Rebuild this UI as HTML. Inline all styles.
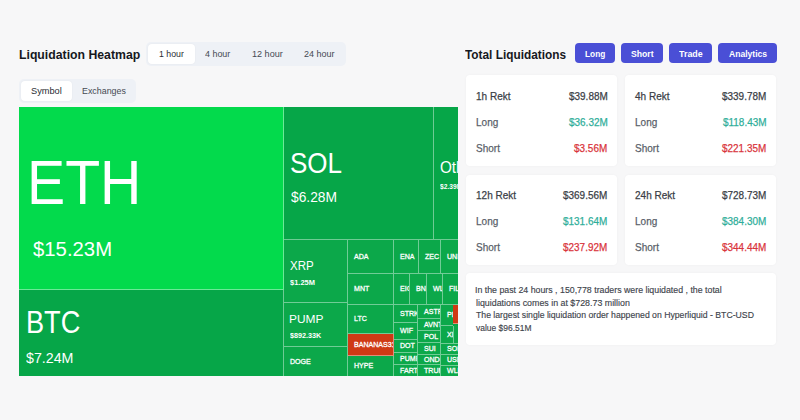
<!DOCTYPE html>
<html><head><meta charset="utf-8">
<style>
*{margin:0;padding:0;box-sizing:border-box}
html,body{width:800px;height:420px;overflow:hidden;background:#f7f7f8;font-family:"Liberation Sans",sans-serif;}
.a{position:absolute}
.t{position:absolute;white-space:nowrap;line-height:1}
.b{position:absolute;overflow:hidden;color:#fff;display:flex;align-items:center;white-space:nowrap;line-height:1}
</style></head><body>
<div class="t" style="left:19.20px;top:48px;font-size:13px;color:#16181d;font-weight:bold;transform:scaleX(0.9426);transform-origin:0 50%;">Liquidation Heatmap</div>
<div class="a" style="left:145.80px;top:41.80px;width:200.20px;height:24.40px;background:#eef1f6;border-radius:5px;"></div>
<div class="a" style="left:147.90px;top:43.90px;width:46.70px;height:20.10px;background:#ffffff;border-radius:4px;box-shadow:0 0 2px rgba(0,0,0,.05);"></div>
<div class="t" style="left:159.04px;top:49px;font-size:9.5px;color:#2a2d33;transform:scaleX(0.9225);transform-origin:0 50%;">1 hour</div>
<div class="t" style="left:205.32px;top:49px;font-size:9.5px;color:#454a53;transform:scaleX(0.9382);transform-origin:0 50%;">4 hour</div>
<div class="t" style="left:251.82px;top:49px;font-size:9.5px;color:#454a53;transform:scaleX(0.9555);transform-origin:0 50%;">12 hour</div>
<div class="t" style="left:303.55px;top:49px;font-size:9.5px;color:#454a53;transform:scaleX(0.9483);transform-origin:0 50%;">24 hour</div>
<div class="a" style="left:19.10px;top:79.00px;width:117.30px;height:23.60px;background:#eef1f6;border-radius:5px;"></div>
<div class="a" style="left:20.90px;top:80.75px;width:50.70px;height:20.15px;background:#ffffff;border-radius:4px;box-shadow:0 0 2px rgba(0,0,0,.05);"></div>
<div class="t" style="left:30.99px;top:86px;font-size:9.5px;color:#2a2d33;transform:scaleX(0.9694);transform-origin:0 50%;">Symbol</div>
<div class="t" style="left:81.89px;top:86px;font-size:9.5px;color:#454a53;transform:scaleX(0.9340);transform-origin:0 50%;">Exchanges</div>
<div class="t" style="left:465.38px;top:48px;font-size:13px;color:#16181d;font-weight:bold;transform:scaleX(0.9106);transform-origin:0 50%;">Total Liquidations</div>
<div class="a" style="left:575.00px;top:43.00px;width:40.00px;height:20.00px;background:#4a4fd6;border-radius:4px;"></div>
<div class="t" style="left:585.46px;top:49px;font-size:9.5px;color:#ffffff;font-weight:bold;transform:scaleX(0.8730);transform-origin:0 50%;">Long</div>
<div class="a" style="left:621.00px;top:43.00px;width:42.00px;height:20.00px;background:#4a4fd6;border-radius:4px;"></div>
<div class="t" style="left:630.78px;top:49px;font-size:9.5px;color:#ffffff;font-weight:bold;transform:scaleX(0.9098);transform-origin:0 50%;">Short</div>
<div class="a" style="left:669.00px;top:43.00px;width:43.00px;height:20.00px;background:#4a4fd6;border-radius:4px;"></div>
<div class="t" style="left:679.41px;top:49px;font-size:9.5px;color:#ffffff;font-weight:bold;transform:scaleX(0.9343);transform-origin:0 50%;">Trade</div>
<div class="a" style="left:718.00px;top:43.00px;width:59.00px;height:20.00px;background:#4a4fd6;border-radius:4px;"></div>
<div class="t" style="left:728.79px;top:49px;font-size:9.5px;color:#ffffff;font-weight:bold;transform:scaleX(0.9026);transform-origin:0 50%;">Analytics</div>
<div class="a" style="left:466.00px;top:75.00px;width:151.00px;height:91.00px;background:#ffffff;border-radius:4px;box-shadow:0 0 3px rgba(0,0,0,.035);"></div>
<div class="a" style="left:625.00px;top:75.00px;width:151.00px;height:91.00px;background:#ffffff;border-radius:4px;box-shadow:0 0 3px rgba(0,0,0,.035);"></div>
<div class="a" style="left:466.00px;top:175.00px;width:151.00px;height:90.00px;background:#ffffff;border-radius:4px;box-shadow:0 0 3px rgba(0,0,0,.035);"></div>
<div class="a" style="left:625.00px;top:175.00px;width:151.00px;height:90.00px;background:#ffffff;border-radius:4px;box-shadow:0 0 3px rgba(0,0,0,.035);"></div>
<div class="a" style="left:466.00px;top:273.00px;width:310.00px;height:72.00px;background:#ffffff;border-radius:4px;box-shadow:0 0 3px rgba(0,0,0,.035);"></div>
<div class="t" style="left:476.15px;top:91px;font-size:11.2px;color:#3a3e46;transform:scaleX(0.8950);transform-origin:0 50%;-webkit-text-stroke:0.25px;">1h Rekt</div>
<div class="t" style="left:568.77px;top:91px;font-size:11.2px;color:#3a3e46;transform:scaleX(0.8900);transform-origin:0 50%;-webkit-text-stroke:0.25px;">$39.88M</div>
<div class="t" style="left:476.10px;top:117px;font-size:11.2px;color:#5a5f69;transform:scaleX(0.8950);transform-origin:0 50%;-webkit-text-stroke:0.25px;">Long</div>
<div class="t" style="left:568.77px;top:117px;font-size:11.2px;color:#2fae9a;transform:scaleX(0.8900);transform-origin:0 50%;-webkit-text-stroke:0.25px;">$36.32M</div>
<div class="t" style="left:476.45px;top:143px;font-size:11.2px;color:#5a5f69;transform:scaleX(0.8950);transform-origin:0 50%;-webkit-text-stroke:0.25px;">Short</div>
<div class="t" style="left:574.30px;top:143px;font-size:11.2px;color:#d9343c;transform:scaleX(0.8900);transform-origin:0 50%;-webkit-text-stroke:0.25px;">$3.56M</div>
<div class="t" style="left:635.40px;top:91px;font-size:11.2px;color:#3a3e46;transform:scaleX(0.8950);transform-origin:0 50%;-webkit-text-stroke:0.25px;">4h Rekt</div>
<div class="t" style="left:722.24px;top:91px;font-size:11.2px;color:#3a3e46;transform:scaleX(0.8900);transform-origin:0 50%;-webkit-text-stroke:0.25px;">$339.78M</div>
<div class="t" style="left:634.80px;top:117px;font-size:11.2px;color:#5a5f69;transform:scaleX(0.8950);transform-origin:0 50%;-webkit-text-stroke:0.25px;">Long</div>
<div class="t" style="left:722.99px;top:117px;font-size:11.2px;color:#2fae9a;transform:scaleX(0.8900);transform-origin:0 50%;-webkit-text-stroke:0.25px;">$118.43M</div>
<div class="t" style="left:635.15px;top:143px;font-size:11.2px;color:#5a5f69;transform:scaleX(0.8950);transform-origin:0 50%;-webkit-text-stroke:0.25px;">Short</div>
<div class="t" style="left:722.24px;top:143px;font-size:11.2px;color:#d9343c;transform:scaleX(0.8900);transform-origin:0 50%;-webkit-text-stroke:0.25px;">$221.35M</div>
<div class="t" style="left:476.15px;top:190px;font-size:11.2px;color:#3a3e46;transform:scaleX(0.8950);transform-origin:0 50%;-webkit-text-stroke:0.25px;">12h Rekt</div>
<div class="t" style="left:563.24px;top:190px;font-size:11.2px;color:#3a3e46;transform:scaleX(0.8900);transform-origin:0 50%;-webkit-text-stroke:0.25px;">$369.56M</div>
<div class="t" style="left:476.10px;top:216px;font-size:11.2px;color:#5a5f69;transform:scaleX(0.8950);transform-origin:0 50%;-webkit-text-stroke:0.25px;">Long</div>
<div class="t" style="left:563.24px;top:216px;font-size:11.2px;color:#2fae9a;transform:scaleX(0.8900);transform-origin:0 50%;-webkit-text-stroke:0.25px;">$131.64M</div>
<div class="t" style="left:476.45px;top:242px;font-size:11.2px;color:#5a5f69;transform:scaleX(0.8950);transform-origin:0 50%;-webkit-text-stroke:0.25px;">Short</div>
<div class="t" style="left:563.24px;top:242px;font-size:11.2px;color:#d9343c;transform:scaleX(0.8900);transform-origin:0 50%;-webkit-text-stroke:0.25px;">$237.92M</div>
<div class="t" style="left:635.10px;top:190px;font-size:11.2px;color:#3a3e46;transform:scaleX(0.8950);transform-origin:0 50%;-webkit-text-stroke:0.25px;">24h Rekt</div>
<div class="t" style="left:722.24px;top:190px;font-size:11.2px;color:#3a3e46;transform:scaleX(0.8900);transform-origin:0 50%;-webkit-text-stroke:0.25px;">$728.73M</div>
<div class="t" style="left:634.80px;top:216px;font-size:11.2px;color:#5a5f69;transform:scaleX(0.8950);transform-origin:0 50%;-webkit-text-stroke:0.25px;">Long</div>
<div class="t" style="left:722.24px;top:216px;font-size:11.2px;color:#2fae9a;transform:scaleX(0.8900);transform-origin:0 50%;-webkit-text-stroke:0.25px;">$384.30M</div>
<div class="t" style="left:635.15px;top:242px;font-size:11.2px;color:#5a5f69;transform:scaleX(0.8950);transform-origin:0 50%;-webkit-text-stroke:0.25px;">Short</div>
<div class="t" style="left:722.24px;top:242px;font-size:11.2px;color:#d9343c;transform:scaleX(0.8900);transform-origin:0 50%;-webkit-text-stroke:0.25px;">$344.44M</div>
<div class="t" style="left:475.41px;top:286px;font-size:9.3px;color:#40444c;transform:scaleX(0.9451);transform-origin:0 50%;-webkit-text-stroke:0.15px;">In the past 24 hours , 150,778 traders were liquidated , the total</div>
<div class="t" style="left:475.63px;top:299px;font-size:9.3px;color:#40444c;transform:scaleX(0.9511);transform-origin:0 50%;-webkit-text-stroke:0.15px;">liquidations comes in at $728.73 million</div>
<div class="t" style="left:476.03px;top:311px;font-size:9.3px;color:#40444c;transform:scaleX(0.9336);transform-origin:0 50%;-webkit-text-stroke:0.15px;">The largest single liquidation order happened on Hyperliquid - BTC-USD</div>
<div class="t" style="left:476.20px;top:324px;font-size:9.3px;color:#40444c;transform:scaleX(0.9093);transform-origin:0 50%;-webkit-text-stroke:0.15px;">value $96.51M</div>
<div class="a" style="left:19px;top:107px;width:439px;height:269px;background:#06a648;overflow:hidden">
<div class="b" style="left:0px;top:0px;width:265px;height:183px;background:#03da4c;border-right:1px solid rgba(255,255,255,.42);border-bottom:1px solid rgba(255,255,255,.42);"></div>
<div class="b" style="left:0px;top:183px;width:265px;height:86px;background:#06a648;border-right:1px solid rgba(255,255,255,.42);"></div>
<div class="b" style="left:265px;top:0px;width:150px;height:133px;background:#06a648;border-right:1px solid rgba(255,255,255,.42);border-bottom:1px solid rgba(255,255,255,.42);"></div>
<div class="b" style="left:415px;top:0px;width:24px;height:133px;background:#06a648;border-bottom:1px solid rgba(255,255,255,.42);"></div>
<div class="b" style="left:265px;top:133px;width:64px;height:63px;background:#0ca84a;border-right:1px solid rgba(255,255,255,.42);border-bottom:1px solid rgba(255,255,255,.42);"></div>
<div class="b" style="left:265px;top:196px;width:64px;height:44px;background:#0ca84a;border-right:1px solid rgba(255,255,255,.42);border-bottom:1px solid rgba(255,255,255,.42);"></div>
<div class="b" style="left:265px;top:240px;width:64px;height:29px;background:#0ca84a;border-right:1px solid rgba(255,255,255,.42);"><span style="font-size:7.6px;-webkit-text-stroke:0.3px;margin-left:5.50px;transform:scaleX(.93);transform-origin:0 50%">DOGE</span></div>
<div class="b" style="left:329px;top:133px;width:46px;height:34px;background:#0ca84a;border-right:1px solid rgba(255,255,255,.42);border-bottom:1px solid rgba(255,255,255,.42);"><span style="font-size:7.6px;-webkit-text-stroke:0.3px;margin-left:5.80px;transform:scaleX(.93);transform-origin:0 50%">ADA</span></div>
<div class="b" style="left:329px;top:167px;width:46px;height:31px;background:#0ca84a;border-right:1px solid rgba(255,255,255,.42);border-bottom:1px solid rgba(255,255,255,.42);"><span style="font-size:7.6px;-webkit-text-stroke:0.3px;margin-left:5.80px;transform:scaleX(.93);transform-origin:0 50%">MNT</span></div>
<div class="b" style="left:329px;top:198px;width:46px;height:29px;background:#0ca84a;border-right:1px solid rgba(255,255,255,.42);border-bottom:1px solid rgba(255,255,255,.42);"><span style="font-size:7.6px;-webkit-text-stroke:0.3px;margin-left:5.80px;transform:scaleX(.93);transform-origin:0 50%">LTC</span></div>
<div class="b" style="left:329px;top:227px;width:46px;height:22px;background:#cf3a15;border-right:1px solid rgba(255,255,255,.42);border-bottom:1px solid rgba(255,255,255,.42);"><span style="font-size:7.6px;-webkit-text-stroke:0.3px;margin-left:5.80px;transform:scaleX(.93);transform-origin:0 50%">BANANAS31</span></div>
<div class="b" style="left:329px;top:249px;width:46px;height:20px;background:#0ca84a;border-right:1px solid rgba(255,255,255,.42);"><span style="font-size:7.6px;-webkit-text-stroke:0.3px;margin-left:5.80px;transform:scaleX(.93);transform-origin:0 50%">HYPE</span></div>
<div class="b" style="left:375px;top:133px;width:25px;height:34px;background:#0ca84a;border-right:1px solid rgba(255,255,255,.42);border-bottom:1px solid rgba(255,255,255,.42);"><span style="font-size:7.6px;-webkit-text-stroke:0.3px;margin-left:5.80px;transform:scaleX(.93);transform-origin:0 50%">ENA</span></div>
<div class="b" style="left:400px;top:133px;width:22px;height:34px;background:#0ca84a;border-right:1px solid rgba(255,255,255,.42);border-bottom:1px solid rgba(255,255,255,.42);"><span style="font-size:7.6px;-webkit-text-stroke:0.3px;margin-left:5.80px;transform:scaleX(.93);transform-origin:0 50%">ZEC</span></div>
<div class="b" style="left:422px;top:133px;width:17px;height:34px;background:#0ca84a;border-bottom:1px solid rgba(255,255,255,.42);"><span style="font-size:7.6px;-webkit-text-stroke:0.3px;margin-left:5.80px;transform:scaleX(.93);transform-origin:0 50%">UNI</span></div>
<div class="b" style="left:375px;top:167px;width:16px;height:31px;background:#0ca84a;border-right:1px solid rgba(255,255,255,.42);border-bottom:1px solid rgba(255,255,255,.42);"><span style="font-size:7.6px;-webkit-text-stroke:0.3px;margin-left:5.80px;transform:scaleX(.93);transform-origin:0 50%">EIGEN</span></div>
<div class="b" style="left:391px;top:167px;width:17px;height:31px;background:#0ca84a;border-right:1px solid rgba(255,255,255,.42);border-bottom:1px solid rgba(255,255,255,.42);"><span style="font-size:7.6px;-webkit-text-stroke:0.3px;margin-left:5.80px;transform:scaleX(.93);transform-origin:0 50%">BNB</span></div>
<div class="b" style="left:408px;top:167px;width:16px;height:31px;background:#0ca84a;border-right:1px solid rgba(255,255,255,.42);border-bottom:1px solid rgba(255,255,255,.42);"><span style="font-size:7.6px;-webkit-text-stroke:0.3px;margin-left:5.80px;transform:scaleX(.93);transform-origin:0 50%">WLD</span></div>
<div class="b" style="left:424px;top:167px;width:15px;height:31px;background:#0ca84a;border-bottom:1px solid rgba(255,255,255,.42);"><span style="font-size:7.6px;-webkit-text-stroke:0.3px;margin-left:5.80px;transform:scaleX(.93);transform-origin:0 50%">FIL</span></div>
<div class="b" style="left:375px;top:198px;width:24px;height:18px;background:#0ca84a;border-right:1px solid rgba(255,255,255,.42);border-bottom:1px solid rgba(255,255,255,.42);"><span style="font-size:7.6px;-webkit-text-stroke:0.3px;margin-left:5.80px;transform:scaleX(.93);transform-origin:0 50%">STRK</span></div>
<div class="b" style="left:375px;top:216px;width:24px;height:17px;background:#0ca84a;border-right:1px solid rgba(255,255,255,.42);border-bottom:1px solid rgba(255,255,255,.42);"><span style="font-size:7.6px;-webkit-text-stroke:0.3px;margin-left:5.80px;transform:scaleX(.93);transform-origin:0 50%">WIF</span></div>
<div class="b" style="left:375px;top:233px;width:24px;height:13px;background:#0ca84a;border-right:1px solid rgba(255,255,255,.42);border-bottom:1px solid rgba(255,255,255,.42);"><span style="font-size:7.6px;-webkit-text-stroke:0.3px;margin-left:5.80px;transform:scaleX(.93);transform-origin:0 50%">DOT</span></div>
<div class="b" style="left:375px;top:246px;width:24px;height:12px;background:#0ca84a;border-right:1px solid rgba(255,255,255,.42);border-bottom:1px solid rgba(255,255,255,.42);"><span style="font-size:7.6px;-webkit-text-stroke:0.3px;margin-left:5.80px;transform:scaleX(.93);transform-origin:0 50%">PUMPFUN</span></div>
<div class="b" style="left:375px;top:258px;width:24px;height:11px;background:#0ca84a;border-right:1px solid rgba(255,255,255,.42);"><span style="font-size:7.6px;-webkit-text-stroke:0.3px;margin-left:5.80px;transform:scaleX(.93);transform-origin:0 50%">FARTCOIN</span></div>
<div class="b" style="left:399px;top:198px;width:23px;height:14px;background:#0ca84a;border-right:1px solid rgba(255,255,255,.42);border-bottom:1px solid rgba(255,255,255,.42);"><span style="font-size:7.6px;-webkit-text-stroke:0.3px;margin-left:5.80px;transform:scaleX(.93);transform-origin:0 50%">ASTR</span></div>
<div class="b" style="left:399px;top:212px;width:23px;height:12px;background:#0ca84a;border-right:1px solid rgba(255,255,255,.42);border-bottom:1px solid rgba(255,255,255,.42);"><span style="font-size:7.6px;-webkit-text-stroke:0.3px;margin-left:5.80px;transform:scaleX(.93);transform-origin:0 50%">AVNT</span></div>
<div class="b" style="left:399px;top:224px;width:23px;height:12px;background:#0ca84a;border-right:1px solid rgba(255,255,255,.42);border-bottom:1px solid rgba(255,255,255,.42);"><span style="font-size:7.6px;-webkit-text-stroke:0.3px;margin-left:5.80px;transform:scaleX(.93);transform-origin:0 50%">POL</span></div>
<div class="b" style="left:399px;top:236px;width:23px;height:12px;background:#0ca84a;border-right:1px solid rgba(255,255,255,.42);border-bottom:1px solid rgba(255,255,255,.42);"><span style="font-size:7.6px;-webkit-text-stroke:0.3px;margin-left:5.80px;transform:scaleX(.93);transform-origin:0 50%">SUI</span></div>
<div class="b" style="left:399px;top:248px;width:23px;height:10px;background:#0ca84a;border-right:1px solid rgba(255,255,255,.42);border-bottom:1px solid rgba(255,255,255,.42);"><span style="font-size:7.6px;-webkit-text-stroke:0.3px;margin-left:5.80px;transform:scaleX(.93);transform-origin:0 50%">ONDO</span></div>
<div class="b" style="left:399px;top:258px;width:23px;height:11px;background:#0ca84a;border-right:1px solid rgba(255,255,255,.42);"><span style="font-size:7.6px;-webkit-text-stroke:0.3px;margin-left:5.80px;transform:scaleX(.93);transform-origin:0 50%">TRUMP</span></div>
<div class="b" style="left:422px;top:198px;width:12px;height:21px;background:#0ca84a;border-bottom:1px solid rgba(255,255,255,.42);"><span style="font-size:7.6px;-webkit-text-stroke:0.3px;margin-left:5.80px;transform:scaleX(.93);transform-origin:0 50%">PENGU</span></div>
<div class="b" style="left:434px;top:198px;width:5px;height:19px;background:#cf3a15;border-bottom:1px solid rgba(255,255,255,.42);"></div>
<div class="b" style="left:422px;top:219px;width:13px;height:18px;background:#0ca84a;border-right:1px solid rgba(255,255,255,.42);border-bottom:1px solid rgba(255,255,255,.42);"><span style="font-size:7.6px;-webkit-text-stroke:0.3px;margin-left:5.80px;transform:scaleX(.93);transform-origin:0 50%">XLM</span></div>
<div class="b" style="left:435px;top:219px;width:4px;height:18px;background:#0ca84a;border-bottom:1px solid rgba(255,255,255,.42);"></div>
<div class="b" style="left:422px;top:237px;width:17px;height:11px;background:#0ca84a;border-bottom:1px solid rgba(255,255,255,.42);"><span style="font-size:7.6px;-webkit-text-stroke:0.3px;margin-left:5.80px;transform:scaleX(.93);transform-origin:0 50%">SOL</span></div>
<div class="b" style="left:422px;top:248px;width:17px;height:11px;background:#0ca84a;border-bottom:1px solid rgba(255,255,255,.42);"><span style="font-size:7.6px;-webkit-text-stroke:0.3px;margin-left:5.80px;transform:scaleX(.93);transform-origin:0 50%">USELESS</span></div>
<div class="b" style="left:422px;top:259px;width:17px;height:10px;background:#0ca84a;"><span style="font-size:7.6px;-webkit-text-stroke:0.3px;margin-left:5.80px;transform:scaleX(.93);transform-origin:0 50%">WLFI</span></div>
<div class="t" style="left:7.93px;top:44px;font-size:62.5px;color:#fff;transform:scaleX(0.9149);transform-origin:0 50%;">ETH</div>
<div class="t" style="left:14.10px;top:132px;font-size:20.5px;color:#fff;transform:scaleX(0.9910);transform-origin:0 50%;">$15.23M</div>
<div class="t" style="left:7.43px;top:200px;font-size:31px;color:#fff;transform:scaleX(0.8762);transform-origin:0 50%;">BTC</div>
<div class="t" style="left:7.46px;top:243px;font-size:15.5px;color:#fff;transform:scaleX(0.9171);transform-origin:0 50%;">$7.24M</div>
<div class="t" style="left:271.03px;top:41px;font-size:30px;color:#fff;transform:scaleX(0.8658);transform-origin:0 50%;">SOL</div>
<div class="t" style="left:271.86px;top:82px;font-size:15px;color:#fff;transform:scaleX(0.9190);transform-origin:0 50%;">$6.28M</div>
<div class="t" style="left:421.31px;top:52px;font-size:16.4px;color:#fff;transform:scaleX(0.9300);transform-origin:0 50%;">Others</div>
<div class="t" style="left:421.43px;top:76px;font-size:7px;color:#fff;font-weight:bold;transform:scaleX(0.9500);transform-origin:0 50%;">$2.39M</div>
<div class="t" style="left:270.77px;top:153px;font-size:12.3px;color:#fff;transform:scaleX(0.9379);transform-origin:0 50%;">XRP</div>
<div class="t" style="left:271.13px;top:172px;font-size:7px;color:#fff;font-weight:bold;transform:scaleX(1.0676);transform-origin:0 50%;">$1.25M</div>
<div class="t" style="left:270.04px;top:207px;font-size:11.8px;color:#fff;transform:scaleX(1.0120);transform-origin:0 50%;">PUMP</div>
<div class="t" style="left:271.13px;top:225px;font-size:7px;color:#fff;font-weight:bold;transform:scaleX(1.0317);transform-origin:0 50%;">$892.33K</div>
</div>
</body></html>
